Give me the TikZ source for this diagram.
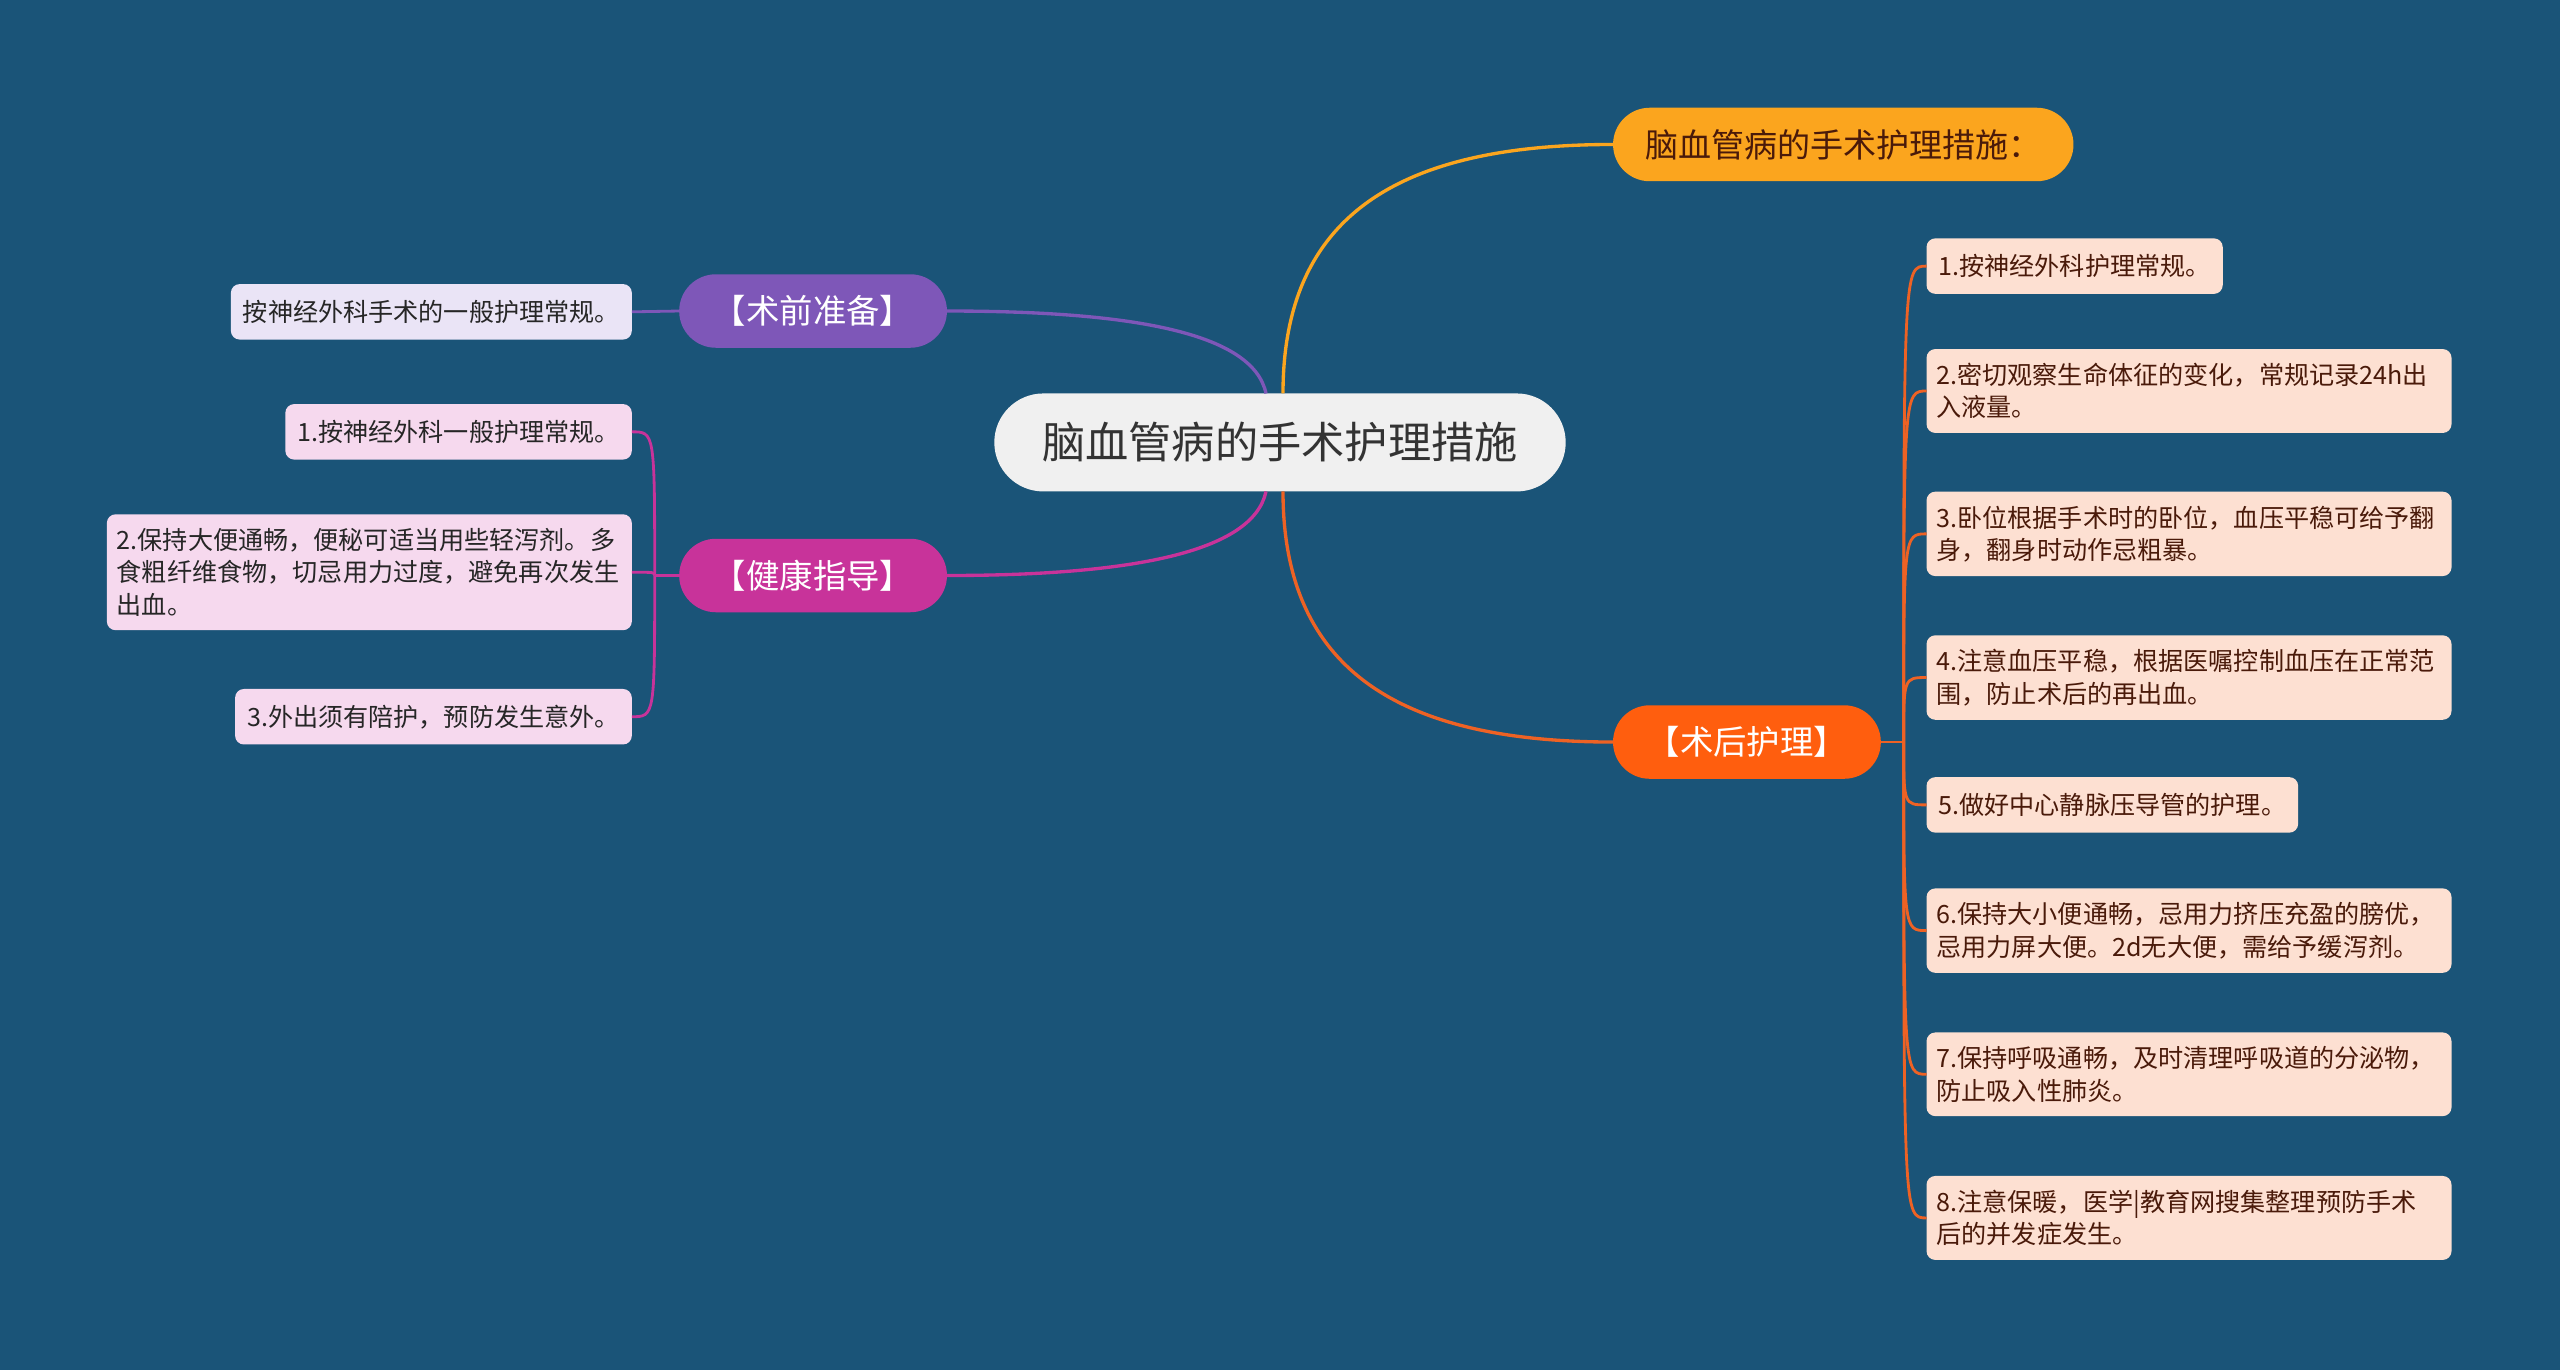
\documentclass[tikz,border=0pt]{standalone}
\usepackage{fontspec}
\setmainfont{Noto Sans CJK SC}
\usepackage{tikz}
\usetikzlibrary{calc}
\definecolor{bgblue}{HTML}{1A5478}
\definecolor{topamber}{HTML}{FBA51E}
\definecolor{prepurple}{HTML}{7E57B8}
\definecolor{healthpink}{HTML}{C8339A}
\definecolor{postorange}{HTML}{FF5E0E}
\definecolor{postline}{HTML}{EE6224}
\definecolor{leafpeach}{HTML}{FDE0D2}
\definecolor{leaflilac}{HTML}{EAE4F6}
\definecolor{leafrose}{HTML}{F6D9EE}
\definecolor{peachtext}{HTML}{4A1A0A}

\begin{document}
\begin{tikzpicture}[x=0.016327cm, y=-0.016327cm,
	every node/.style={inner sep=0pt, outer sep=0pt},
	rootbox/.style={fill=white!94!black, text=black!80, minimum width=5.714cm, minimum height=0.98cm, rounded corners=0.49cm, font=\fontsize{12.3}{15}\selectfont},
	branchbox/.style={minimum width=2.678cm, minimum height=0.735cm, rounded corners=0.367cm, text=white, font=\fontsize{9.5}{12}\selectfont},
	leafbox/.style={rounded corners=2.5pt, inner xsep=0.12cm, inner ysep=4pt, minimum height=0.555cm, font=\fontsize{7.15}{9.2}\selectfont, align=left},
	wideleaf/.style={leafbox, text width=5.05cm, inner xsep=0.1cm},
	link/.style={line width=0.95pt},
	twig/.style={line width=0.8pt}]
	\fill[bgblue] (0,0) rectangle (1568,839);
	\useasboundingbox (0,0) rectangle (1568,839);
	% centre and main branches
	\node[rootbox] (cen) at (784,271) {脑血管病的手术护理措施};
	\node[fill=topamber, text=peachtext, minimum width=4.604cm, minimum height=0.735cm, rounded corners=0.367cm, font=\fontsize{9.4}{12}\selectfont] (top) at (1129,88.5) {脑血管病的手术护理措施：};
	\node[branchbox, fill=prepurple] (pre) at (498,190.5) {【术前准备】};
	\node[branchbox, fill=healthpink] (health) at (498,352.5) {【健康指导】};
	\node[branchbox, fill=postorange] (post) at (1070,454.5) {【术后护理】};
	\draw[link, topamber] ([xshift=0.03cm]cen.north) .. controls +(0,-110) and +(-130,0) .. (top.west);
	\draw[link, postline] ([xshift=0.03cm]cen.south) .. controls +(0,110) and +(-130,0) .. (post.west);
	\draw[link, prepurple] ([xshift=-0.14cm]cen.north) .. controls +(-8,-38) and +(110,0) .. (pre.east);
	\draw[link, healthpink] ([xshift=-0.14cm]cen.south) .. controls +(-8,38) and +(110,0) .. (health.east);
	% before surgery
	\node[leafbox, fill=leaflilac, text=black!85, anchor=east] (p1) at (387,191) {按神经外科手术的一般护理常规。};
	\draw[twig, prepurple] (pre.west) -- (p1.east);
	% health advice
	\node[leafbox, fill=leafrose, text=black!85, anchor=east] (h1) at (387,264.5) {1.按神经外科一般护理常规。};
	\node[wideleaf, fill=leafrose, text=black!85, anchor=east] (h2) at (387,350.5) {2.保持大便通畅，便秘可适当用些轻泻剂。多\\食粗纤维食物，切忌用力过度，避免再次发生\\出血。};
	\node[leafbox, fill=leafrose, text=black!85, anchor=east] (h3) at (387,439) {3.外出须有陪护，预防发生意外。};
	\coordinate (hubL) at (401,352.5);
	\draw[twig, healthpink] (health.west) -- (hubL);
	\foreach \leaf in {h1,h2,h3}
		\draw[twig, healthpink] (hubL) .. controls (hubL |- \leaf.east) .. (\leaf.east);
	% after surgery
	\node[leafbox, fill=leafpeach, text=peachtext, anchor=west] (r1) at (1180,163) {1.按神经外科护理常规。};
	\node[wideleaf, fill=leafpeach, text=peachtext, anchor=west] (r2) at (1180,239.5) {2.密切观察生命体征的变化，常规记录24h出\\入液量。};
	\node[wideleaf, fill=leafpeach, text=peachtext, anchor=west] (r3) at (1180,327) {3.卧位根据手术时的卧位，血压平稳可给予翻\\身，翻身时动作忌粗暴。};
	\node[wideleaf, fill=leafpeach, text=peachtext, anchor=west] (r4) at (1180,415) {4.注意血压平稳，根据医嘱控制血压在正常范\\围，防止术后的再出血。};
	\node[leafbox, fill=leafpeach, text=peachtext, anchor=west] (r5) at (1180,493) {5.做好中心静脉压导管的护理。};
	\node[wideleaf, fill=leafpeach, text=peachtext, anchor=west] (r6) at (1180,570) {6.保持大小便通畅，忌用力挤压充盈的膀优，\\忌用力屏大便。2d无大便，需给予缓泻剂。};
	\node[wideleaf, fill=leafpeach, text=peachtext, anchor=west] (r7) at (1180,658) {7.保持呼吸通畅，及时清理呼吸道的分泌物，\\防止吸入性肺炎。};
	\node[wideleaf, fill=leafpeach, text=peachtext, anchor=west] (r8) at (1180,746) {8.注意保暖，医学|教育网搜集整理预防手术\\后的并发症发生。};
	\coordinate (hubR) at (1166,454.5);
	\draw[twig, postline] (post.east) -- (hubR);
	\foreach \leaf in {r1,r2,r3,r4,r5,r6,r7,r8}
		\draw[twig, postline] (hubR) .. controls (hubR |- \leaf.west) .. (\leaf.west);
\end{tikzpicture}
\end{document}
